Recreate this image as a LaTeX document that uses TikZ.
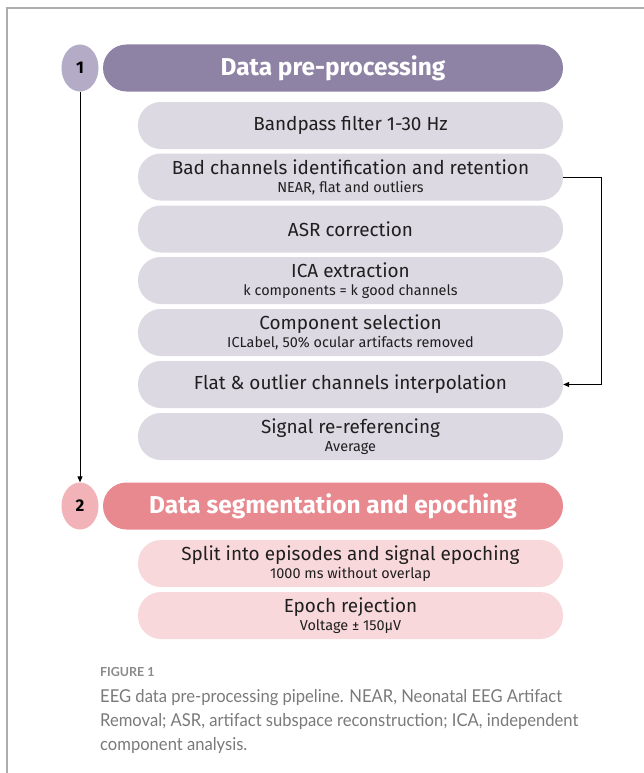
\documentclass[tikz,border=0pt]{standalone}
\usepackage{fontspec}
\setmainfont{Fira Sans}
\newfontfamily\capfont[FakeStretch=0.935]{Lato}
\newfontfamily\figfont{Lato}
\usetikzlibrary{arrows.meta,shapes.geometric}
\definecolor{hdrA}{HTML}{8E83A5}
\definecolor{circA}{HTML}{B4ACC6}
\definecolor{boxA}{HTML}{DCD9E3}
\definecolor{hdrB}{HTML}{E8898F}
\definecolor{circB}{HTML}{F1B3B7}
\definecolor{boxB}{HTML}{F8D8DB}
\definecolor{framecol}{HTML}{ADADAD}
\definecolor{captxt}{HTML}{7A7A7A}
\definecolor{capfig}{HTML}{8A8A8A}
\newcommand{\subline}[1]{{\fontsize{14.5}{16}\selectfont #1}}
\begin{document}
\begin{tikzpicture}[x=1bp,y=-1bp,
  stepbox/.style={rectangle, rounded corners=23bp, minimum width=425bp, minimum height=47bp,
    inner sep=0pt, align=center, font=\fontsize{19}{21}\selectfont, text=black!88},
  hdr/.style={rectangle, rounded corners=23.5bp, minimum width=460bp, minimum height=47bp,
    inner sep=0pt, text=white, font=\fontsize{24.5}{28}\selectfont\bfseries},
  num/.style={ellipse, minimum width=37bp, minimum height=47bp, inner sep=0pt,
    font=\fontsize{17}{20}\selectfont\bfseries, text=black},
  conn/.style={line width=1bp, black, -{Triangle[length=6bp,width=5bp]}}]
\useasboundingbox (0,0) rectangle (644,773);
\fill[white] (0,0) rectangle (644,773);
\draw[framecol, line width=1.2bp] (7,773) -- (7,8) -- (644,8);

\node[num, fill=circA] (c1) at (80,68) {1};
\node[hdr, fill=hdrA] (h1) at (333,68) {Data pre-processing};

\node[stepbox, fill=boxA] (bp) at (350.5,125.5) {Bandpass filter 1-30 Hz};
\node[stepbox, fill=boxA] (bad) at (350.5,177) {Bad channels identification and retention\\[-3pt]\subline{NEAR, flat and outliers}};
\node[stepbox, fill=boxA] (asr) at (350.5,229) {ASR correction};
\node[stepbox, fill=boxA] (ica) at (350.5,280.5) {ICA extraction\\[-3pt]\subline{k components = k good channels}};
\node[stepbox, fill=boxA] (cs) at (350.5,332.5) {Component selection\\[-3pt]\subline{ICLabel, 50\% ocular artifacts removed}};
\node[stepbox, fill=boxA] (flat) at (350.5,384.5) {Flat \& outlier channels interpolation};
\node[stepbox, fill=boxA] (reref) at (350.5,436.5) {Signal re-referencing\\[-3pt]\subline{Average}};

\node[num, fill=circB] (c2) at (80,506) {2};
\node[hdr, fill=hdrB] (h2) at (333,506) {Data segmentation and epoching};

\node[stepbox, fill=boxB] (split) at (350.5,563.5) {Split into episodes and signal epoching\\[-3pt]\subline{1000 ms without overlap}};
\node[stepbox, fill=boxB] (rej) at (350.5,615.5) {Epoch rejection\\[-3pt]\subline{Voltage ± 150µV}};

\draw[conn] (c1.south) -- (c2.north);
\draw[conn] (bad.east) -- ++(38,0) |- (flat.east);

\node[anchor=base west, inner sep=0pt, text=capfig, font=\figfont\fontsize{12.5}{15}\selectfont\bfseries] (fig) at (100,676) {FIGURE 1};
\node[anchor=north west, inner sep=0pt, align=left, text=captxt, font=\capfont\fontsize{17.8}{24}\selectfont] (cap) at (100,689.5)
  {EEG data pre-processing pipeline. NEAR, Neonatal EEG Artifact\\
   Removal; ASR, artifact subspace reconstruction; ICA, independent\\
   component analysis.};
\end{tikzpicture}
\end{document}
